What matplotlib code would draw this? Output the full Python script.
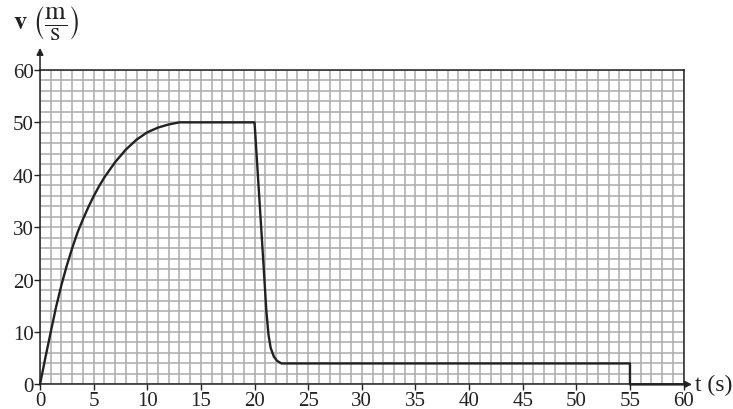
import matplotlib
matplotlib.use("Agg")
import matplotlib.pyplot as plt
import numpy as np

plt.rcParams['font.family'] = ['Liberation Serif', 'DejaVu Serif']
plt.rcParams['mathtext.fontset'] = 'stix'

# velocity-time curve
t_vals = [0, 0.5, 1, 1.5, 2, 2.5, 3, 3.5, 4, 4.5, 5, 5.5, 6, 7, 8, 9, 10, 11, 12, 13,
          20, 20.4, 20.8, 21.1, 21.3, 21.5, 21.8, 22.1, 22.5,
          55, 55, 60]
v_vals = [0, 5.1, 10, 14.8, 19, 22.7, 26, 29, 31.5, 33.8, 35.9, 37.8, 39.5, 42.4, 44.8, 46.7, 48.1, 49.0, 49.6, 50,
          50, 37, 24, 14, 9.5, 7, 5.3, 4.5, 4,
          4, 0, 0]

x_ticks = list(range(0, 65, 5))
y_ticks = list(range(0, 70, 10))

fig = plt.figure(figsize=(7.33, 4.10), dpi=100)
ax = fig.add_axes([0.0546, 0.06, 0.878, 0.767])

ax.set_xlim(0, 60)
ax.set_ylim(0, 60)

# graph paper
ax.set_xticks(np.arange(0, 61, 1), minor=True)
ax.set_yticks(np.arange(0, 61, 2), minor=True)
ax.grid(True, which='both', color='#ababab', linewidth=1.1)
ax.tick_params(which='minor', length=0)
ax.set_axisbelow(True)

ax.plot(t_vals, v_vals, color='#222222', linewidth=1.7, clip_on=False, zorder=5,
        solid_joinstyle='round')

ax.set_xticks(x_ticks)
ax.set_yticks(y_ticks)
ax.tick_params(which='major', direction='out', length=4, width=1, labelsize=15,
               pad=0.5, colors='#222222')

for s in ax.spines.values():
    s.set_color('#222222')
    s.set_linewidth(1.1)

# axis arrows
ax.annotate('', xy=(0, 1.07), xytext=(0, 1.0), xycoords='axes fraction',
            arrowprops=dict(arrowstyle='-|>', color='#222222', lw=1.1,
                            mutation_scale=10, shrinkA=0, shrinkB=0))
ax.annotate('', xy=(1.013, 0), xytext=(1.0, 0), xycoords='axes fraction',
            arrowprops=dict(arrowstyle='-|>', color='#222222', lw=1.1,
                            mutation_scale=10, shrinkA=0, shrinkB=0))

fig.text(0.018, 0.945, r'$\mathbf{v}\ \left(\dfrac{\mathrm{m}}{\mathrm{s}}\right)$',
         fontsize=19, color='#222222', va='center', ha='left')
fig.text(0.948, 0.06, 't (s)', fontsize=17, color='#222222', va='center', ha='left')

fig.savefig("out.png", dpi=100)
